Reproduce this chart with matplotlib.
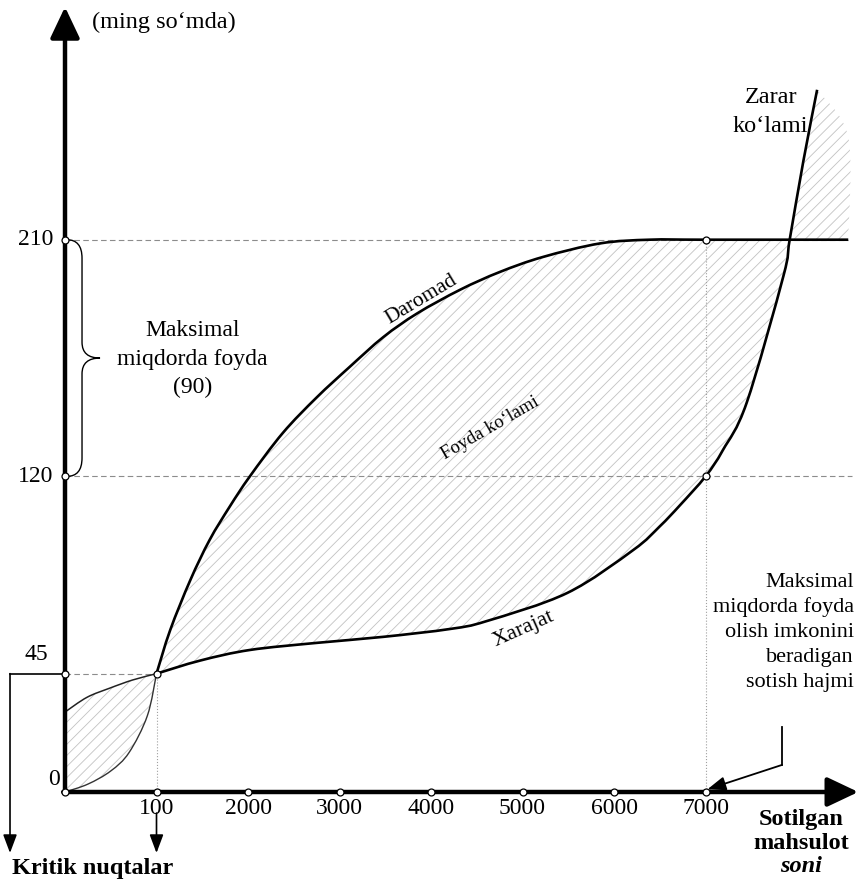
import matplotlib
matplotlib.use('Agg')
import matplotlib.pyplot as plt
from matplotlib.path import Path
from matplotlib.patches import PathPatch

plt.rcParams['font.family'] = ['Liberation Serif', 'DejaVu Serif']
plt.rcParams['hatch.linewidth'] = 0.6

# x o'qi: sotilgan mahsulot soni (1 birlik = 1000 dona)
x_ticks = [1, 2, 3, 4, 5, 6, 7]
x_tick_labels = ['100', '2000', '3000', '4000', '5000', '6000', '7000']
y_ticks = [0, 45, 120, 210]
y_tick_labels = ['0', '45', '120', '210']

# Daromad egri chizig'i (ming so'mda)
rev_x = [0, 0.25, 0.5, 0.7, 0.9, 1.0, 1.15, 1.37, 1.58, 1.8, 2.02, 2.38, 2.75,
         3.11, 3.48, 3.85, 4.32, 4.75, 5.22, 5.85, 6.39, 7.0, 8.56]
rev_y = [0, 3, 8, 15, 29, 45, 61.6, 80.6, 95.8, 108.5, 120, 136.5, 150,
         161.6, 173, 182, 191, 197.7, 203.4, 208.6, 210, 210, 210]

# Xarajat egri chizig'i
cost_x = [0, 0.24, 0.49, 0.74, 1.0, 1.48, 2.02, 2.75, 3.48, 4.21, 4.61, 5.49,
          6.21, 6.5, 6.72, 7.0, 7.19, 7.45, 7.85, 7.92, 8.07, 8.22]
cost_y = [30.4, 36, 39.5, 42.6, 45, 50, 54, 56.7, 59, 62, 65, 75.7,
          92, 101, 109, 120, 130, 148, 196, 210, 240, 267]

crit_x, crit_y = 1, 45          # kritik nuqta
opt_x, max_rev, opt_cost = 7, 210, 120
cross_x = 7.92                  # xarajat daromaddan oshadigan joy
right_x = 8.56
zarar_top = 249


def smooth(pts):
    # nuqtalar orqali silliq (Catmull-Rom) egri chiziq segmentlari
    verts, codes = [], []
    n = len(pts)
    for i in range(n - 1):
        p0 = pts[i - 1] if i > 0 else pts[i]
        p1, p2 = pts[i], pts[i + 1]
        p3 = pts[i + 2] if i + 2 < n else pts[i + 1]
        c1 = (p1[0] + (p2[0] - p0[0]) / 6, p1[1] + (p2[1] - p0[1]) / 6)
        c2 = (p2[0] - (p3[0] - p1[0]) / 6, p2[1] - (p3[1] - p1[1]) / 6)
        verts += [c1, c2, p2]
        codes += [Path.CURVE4] * 3
    return verts, codes


def curve(ax, pts, **kw):
    v, c = smooth(pts)
    ax.add_patch(PathPatch(Path([pts[0]] + v, [Path.MOVETO] + c), fill=False, **kw))


def region(ax, parts, **kw):
    verts, codes = [], []
    for k, pts in enumerate(parts):
        verts.append(pts[0])
        codes.append(Path.MOVETO if k == 0 else Path.LINETO)
        if len(pts) > 2:
            v, c = smooth(pts)
        else:
            v, c = pts[1:], [Path.LINETO] * (len(pts) - 1)
        verts += v
        codes += c
    verts.append(verts[0])
    codes.append(Path.CLOSEPOLY)
    ax.add_patch(PathPatch(Path(verts, codes), **kw))


fig = plt.figure(figsize=(8.6, 8.84), dpi=100)
ax = fig.add_axes([0, 0, 1, 1])
ax.set_xlim(-0.7104, 8.6885)
ax.set_ylim(-34.98, 301.14)
ax.axis('off')

hatch_kw = dict(facecolor='white', edgecolor='#c2c2c2', hatch='///', linewidth=0, zorder=1)

rev_pts = list(zip(rev_x, rev_y))
cost_pts = list(zip(cost_x, cost_y))
rev_lo = [p for p in rev_pts if p[0] <= crit_x]
rev_up = [p for p in rev_pts if p[0] >= crit_x]
cost_lo = [p for p in cost_pts if p[0] <= crit_x]
cost_up = [p for p in cost_pts if p[0] >= crit_x]

# foyda ko'lami
rev_mid = [p for p in rev_up if p[0] <= cross_x]
cost_mid = [p for p in cost_up if p[0] <= cross_x][::-1]
region(ax, [rev_mid, cost_mid], **hatch_kw)
# boshlang'ich zarar
region(ax, [rev_lo, cost_lo[::-1]], **hatch_kw)
# zarar ko'lami
cost_hi = [p for p in cost_pts if p[1] >= max_rev]
region(ax, [cost_hi, [cost_hi[-1], (right_x, zarar_top), (right_x, max_rev)]], **hatch_kw)

# yordamchi chiziqlar
gkw = dict(color='#8c8c8c', lw=0.8, ls=(0, (5, 3)), zorder=2)
ax.plot([0, right_x], [max_rev, max_rev], **gkw)
ax.plot([0, right_x + 0.04], [opt_cost, opt_cost], **gkw)
ax.plot([0, crit_x], [crit_y, crit_y], **gkw)
ax.plot([crit_x, crit_x], [0, crit_y], color='#a0a0a0', lw=0.8, ls=':', zorder=2)
ax.plot([opt_x, opt_x], [0, max_rev], color='#a0a0a0', lw=0.8, ls=':', zorder=2)

# egri chiziqlar
curve(ax, rev_lo, color='#333333', lw=1.0, zorder=3)
curve(ax, rev_up, color='black', lw=1.9, zorder=3)
curve(ax, cost_lo, color='#222222', lw=1.1, zorder=3)
curve(ax, cost_up, color='black', lw=1.9, zorder=3)

# o'qlar
akw = dict(arrowstyle='-|>,head_length=0.95,head_width=0.45', lw=3.2, color='black',
           shrinkA=0, shrinkB=0, mutation_scale=20)
ax.annotate('', xy=(0, 298.5), xytext=(0, -0.6), arrowprops=akw, zorder=4)
ax.annotate('', xy=(8.67, 0), xytext=(-0.02, 0), arrowprops=akw, zorder=4)

# nuqtalar
mkw = dict(ls='none', marker='o', ms=5, mfc='white', mec='black', mew=0.9, zorder=6)
ax.plot([0] + x_ticks, [0] * (len(x_ticks) + 1), **mkw)
ax.plot([0, 0, 0], [crit_y, opt_cost, max_rev], **mkw)
ax.plot([crit_x, opt_x, opt_x], [crit_y, opt_cost, max_rev], **mkw)

# belgilar
fs = 17
for x, lab in zip(x_ticks, x_tick_labels):
    ax.text(x, -6.1, lab, ha='center', va='center', fontsize=fs)
ytick_pos = [(-0.055, 4.6), (-0.186, 52.1), (-0.131, 119.8), (-0.131, 209.9)]
for (x, y), lab in zip(ytick_pos, y_tick_labels):
    ax.text(x, y, lab, ha='right', va='center', fontsize=fs)

ax.text(0.295, 292.8, '(ming so‘mda)', ha='left', va='center', fontsize=17.5)

# figurali qavs
bx, tip = 0.186, 0.383
mid = (max_rev + opt_cost) / 2
verts = [(0.02, max_rev), (bx, max_rev), (bx, max_rev - 7),
         (bx, mid + 6), (bx, mid), (tip, mid),
         (bx, mid), (bx, mid - 6),
         (bx, opt_cost + 7), (bx, opt_cost), (0.02, opt_cost)]
codes = [Path.MOVETO, Path.CURVE3, Path.CURVE3,
         Path.LINETO, Path.CURVE3, Path.CURVE3,
         Path.CURVE3, Path.CURVE3,
         Path.LINETO, Path.CURVE3, Path.CURVE3]
ax.add_patch(PathPatch(Path(verts, codes), fill=False, lw=1.0, color='black', zorder=5))
for y, line in zip([175.3, 164.6, 154.0], ['Maksimal', 'miqdorda foyda', '(90)']):
    ax.text(1.393, y, line, ha='center', va='center', fontsize=17)

# kritik nuqtalar
ax.plot([0, -0.601], [crit_y, crit_y], color='black', lw=1.2)
skw = dict(arrowstyle='-|>,head_length=0.8,head_width=0.3', lw=1.2, color='black',
           shrinkA=0, shrinkB=0, mutation_scale=14)
ax.annotate('', xy=(-0.601, -23.2), xytext=(-0.601, crit_y), arrowprops=skw)
ax.annotate('', xy=(crit_x, -23.2), xytext=(crit_x, -8.0), arrowprops=skw)
ax.text(0.306, -28.9, 'Kritik nuqtalar', ha='center', va='center', fontsize=17.5,
        fontweight='bold')

# maksimal foyda hajmi
ax.plot([7.836, 7.836], [24.7, 10.3], color='black', lw=1.3)
ax.annotate('', xy=(opt_x + 0.02, 1.0), xytext=(7.836, 10.3),
            arrowprops=dict(arrowstyle='-|>,head_length=0.8,head_width=0.3', lw=1.3,
                            color='black', shrinkA=0, shrinkB=0, mutation_scale=14))
right_lines = ['Maksimal', 'miqdorda foyda', 'olish imkonini', 'beradigan', 'sotish hajmi']
for y, line in zip([79.8, 70.3, 60.8, 51.3, 41.8], right_lines):
    ax.text(8.62, y, line, ha='right', va='center', fontsize=16)

ax.text(8.044, -10.6, 'Sotilgan', ha='center', va='center', fontsize=17.5, fontweight='bold')
ax.text(8.044, -19.4, 'mahsulot', ha='center', va='center', fontsize=17.5, fontweight='bold')
ax.text(8.044, -28.5, 'soni', ha='center', va='center', fontsize=17.5,
        fontweight='bold', style='italic')

ax.text(7.716, 263.9, 'Zarar', ha='center', va='center', fontsize=17.5)
ax.text(7.705, 252.9, 'ko‘lami', ha='center', va='center', fontsize=17.5)
ax.text(3.896, 187.1, 'Daromad', ha='center', va='center', fontsize=15.5, rotation=31)
ax.text(4.645, 138.2, 'Foyda ko‘lami', ha='center', va='center', fontsize=13.5, rotation=30)
ax.text(5.016, 62.0, 'Xarajat', ha='center', va='center', fontsize=16, rotation=24)

fig.savefig('out.png', dpi=100, facecolor='white')
